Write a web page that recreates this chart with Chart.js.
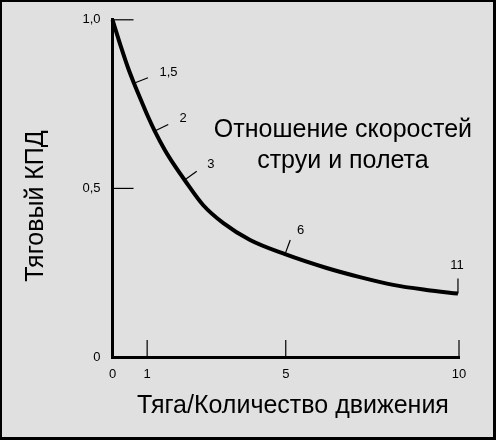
<!DOCTYPE html>
<html><head><meta charset="utf-8">
<script src="https://cdn.jsdelivr.net/npm/chart.js@4.4.0/dist/chart.umd.min.js"></script>
<style>html,body{margin:0;padding:0;background:#e0e0e0;overflow:hidden}#wrap{width:496px;height:440px}</style>
</head><body><div id="wrap"><canvas id="c" width="496" height="440"></canvas></div>
<script>
// ---- data ----
const curveX = [0, 0.25, 0.45, 0.62, 0.83, 1.02, 1.22, 1.51, 1.79, 2.08, 2.62, 3.20, 3.97, 4.98, 6.18, 7.14, 8.10, 9.06, 9.97];
const curveY = [1.0, 0.918, 0.857, 0.812, 0.760, 0.714, 0.670, 0.614, 0.568, 0.525, 0.450, 0.397, 0.347, 0.305, 0.264, 0.237, 0.214, 0.199, 0.188];
const xTickValues = [0, 1, 5, 10];
const xTickLabels = ['0', '1', '5', '10'];
const yTickValues = [0, 0.5, 1];
const yTickLabels = ['0', '0,5', '1,0'];
const ratioLabels = ['1,5', '2', '3', '6', '11'];
const ratioX = [0.62, 1.22, 2.08, 4.98, 9.97];
const xTitle = 'Тяга/Количество движения';
const yTitle = 'Тяговый КПД';
const noteLines = ['Отношение скоростей', 'струи и полета'];

const FONT = "'Liberation Sans', Arial, Helvetica, sans-serif";

function interpY(x) {
  if (x <= curveX[0]) return curveY[0];
  for (let i = 1; i < curveX.length; i++) {
    if (x <= curveX[i]) {
      const t = (x - curveX[i - 1]) / (curveX[i] - curveX[i - 1]);
      return curveY[i - 1] + t * (curveY[i] - curveY[i - 1]);
    }
  }
  return curveY[curveY.length - 1];
}

const decor = {
  id: 'decor',
  beforeDraw(chart) {
    const ctx = chart.ctx, W = chart.width, H = chart.height;
    ctx.save();
    ctx.fillStyle = '#000';
    ctx.fillRect(0, 0, W, H);
    ctx.fillStyle = '#e0e0e0';
    ctx.fillRect(2, 2, W - 5, H - 5);
    ctx.restore();
  },
  afterDraw(chart) {
    const ctx = chart.ctx, xs = chart.scales.x, ys = chart.scales.y;
    const x0 = xs.getPixelForValue(0), y0 = ys.getPixelForValue(0);
    ctx.save();
    ctx.strokeStyle = '#000';
    ctx.lineWidth = 1.2;
    // inner y ticks
    yTickValues.forEach(v => {
      if (v === 0) return;
      const py = ys.getPixelForValue(v);
      ctx.beginPath(); ctx.moveTo(x0, py); ctx.lineTo(x0 + 21, py); ctx.stroke();
    });
    // inner x ticks
    xTickValues.forEach(v => {
      if (v === 0) return;
      const px = xs.getPixelForValue(v);
      ctx.beginPath(); ctx.moveTo(px, y0); ctx.lineTo(px, y0 - 17); ctx.stroke();
    });
    // speed-ratio marks on the curve
    ctx.fillStyle = '#000';
    ctx.font = '13px ' + FONT;
    ratioX.forEach((rx, i) => {
      const px = xs.getPixelForValue(rx), py = ys.getPixelForValue(interpY(rx));
      const a = Math.max(curveX[0], rx - 0.25), b = Math.min(curveX[curveX.length - 1], rx + 0.25);
      const dx = xs.getPixelForValue(b) - xs.getPixelForValue(a);
      const dy = ys.getPixelForValue(interpY(b)) - ys.getPixelForValue(interpY(a));
      const len = Math.hypot(dx, dy);
      let nx = dy / len, ny = -dx / len;
      if (i === ratioX.length - 1) { nx = 0; ny = -1; }
      const L = 15;
      const ex = px + nx * L, ey = py + ny * L;
      ctx.beginPath(); ctx.moveTo(px, py); ctx.lineTo(ex, ey); ctx.stroke();
      if (Math.abs(nx) < 0.25) {
        ctx.textAlign = 'center'; ctx.textBaseline = 'bottom';
        ctx.fillText(ratioLabels[i], ex - 1, ey - 7);
      } else {
        ctx.textAlign = 'left'; ctx.textBaseline = 'bottom';
        ctx.fillText(ratioLabels[i], ex + nx * 8 + 4, ey + ny * 8 + 4);
      }
    });
    // note text
    ctx.font = '25px ' + FONT;
    ctx.textAlign = 'center';
    ctx.textBaseline = 'alphabetic';
    const cx = xs.getPixelForValue(6.65);
    ctx.fillText(noteLines[0], cx, 137);
    ctx.fillText(noteLines[1], cx, 168);
    // axis titles
    ctx.fillText(xTitle, 293, 413);
    ctx.save();
    ctx.translate(43, 206);
    ctx.rotate(-Math.PI / 2);
    ctx.fillText(yTitle, 0, 0);
    ctx.restore();
    ctx.restore();
  }
};

new Chart(document.getElementById('c'), {
  type: 'line',
  data: {
    datasets: [{
      data: curveX.map((x, i) => ({ x: x, y: curveY[i] })),
      borderColor: '#000',
      borderWidth: 4,
      pointRadius: 0,
      cubicInterpolationMode: 'monotone',
      fill: false,
      clip: false
    }]
  },
  options: {
    responsive: false,
    animation: false,
    devicePixelRatio: 1,
    layout: { padding: { left: 0, right: 37, top: 19, bottom: 0 } },
    plugins: { legend: { display: false }, tooltip: { enabled: false } },
    scales: {
      x: {
        type: 'linear', min: 0, max: 10,
        afterBuildTicks: s => { s.ticks = xTickValues.map(v => ({ value: v })); },
        afterFit: s => { s.height = 83; },
        grid: { display: false, drawTicks: false },
        border: { display: true, color: '#000', width: 3 },
        ticks: {
          color: '#000', padding: 10, maxRotation: 0, autoSkip: false,
          font: { family: FONT, size: 13 },
          callback: (v, i) => xTickLabels[i]
        },
        title: { display: false }
      },
      y: {
        type: 'linear', min: 0, max: 1,
        afterBuildTicks: s => { s.ticks = yTickValues.map(v => ({ value: v })); },
        afterFit: s => { s.width = 112.5; },
        grid: { display: false, drawTicks: false },
        border: { display: true, color: '#000', width: 3 },
        ticks: {
          color: '#000', padding: 12, autoSkip: false,
          font: { family: FONT, size: 13 },
          callback: (v, i) => yTickLabels[i]
        },
        title: { display: false }
      }
    }
  },
  plugins: [decor]
});
</script>
</body></html>
